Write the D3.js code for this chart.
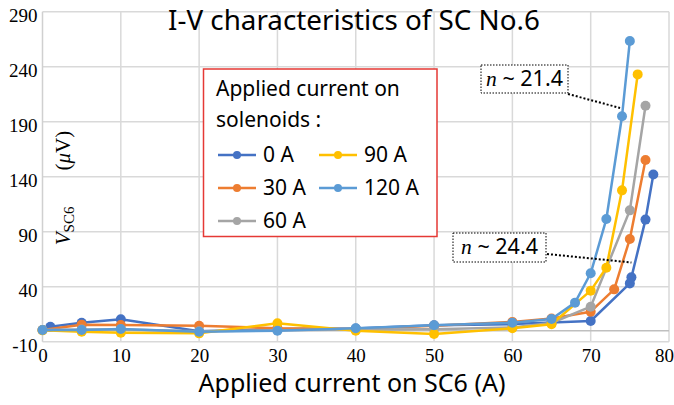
<!DOCTYPE html>
<html><head><meta charset="utf-8">
<script src="https://cdn.jsdelivr.net/npm/d3@7"></script>
<style>
body{margin:0;background:#fff;}
svg{display:block;}
</style></head>
<body>
<svg id="chart" width="674" height="405"></svg>
<script>
// ---- data ----
const seriesNames = ["0 A","30 A","60 A","90 A","120 A"];
const seriesColors = ["#4472C4","#ED7D31","#A5A5A5","#FFC000","#5B9BD5"];
const x0A = [1,5,10,20,30,40,50,60,65,70,75,75.2,77,78];
const y0A = [3.5,7.3,10.4,-0.5,1.5,2,5,6,7.5,8.8,43,48.5,101,142];
const x30A = [0,5,10,20,30,40,50,60,65,70,73,75,77];
const y30A = [0.6,5.5,5.2,4.5,2.2,1.5,4.5,8,11,17.3,37.6,83.4,155.2];
const x60A = [0,5,10,20,30,40,50,60,65,70,75,77];
const y60A = [0.6,1,1.2,-0.5,0.5,1,1.3,3,7,21.8,109.4,204.5];
const x90A = [0,5,10,20,30,40,50,60,65,70,72,74,76];
const y90A = [0.3,-0.9,-1.8,-2.4,6.7,0,-3,2.2,5.8,36.4,57.3,127.6,233];
const x120A = [0,5,10,20,30,40,50,60,65,68,70,72,74,75];
const y120A = [0.6,0.6,1.5,-0.9,0,2.2,5,7.3,10.6,25.5,52.2,101.5,195,263.4];
const xTicks = [0,10,20,30,40,50,60,70,80];
const yTicks = [-10,40,90,140,190,240,290];
const titleText = "I-V characteristics of SC No.6";
const xTitle = "Applied current on SC6 (A)";
const legendTitle = ["Applied current on","solenoids :"];
const annotations = [
  {label:"21.4", from:[73.75,202.5]},
  {label:"24.4", from:[75.2,62]}
];

const xs = [x0A,x30A,x60A,x90A,x120A];
const ys = [y0A,y30A,y60A,y90A,y120A];
const series = seriesNames.map((n,i)=>({name:n,color:seriesColors[i],pts:xs[i].map((x,j)=>[x,ys[i][j]])}));

const svg = d3.select("#chart");
const X = d3.scaleLinear().domain([0,80]).range([42.5,669]);
const Y = d3.scaleLinear().domain([-10,290]).range([341.7,11.7]);
const sans = "'Noto Sans','Open Sans',sans-serif";
const serif = "'Liberation Serif','Times New Roman',serif";

function fit(sel, w){
  const n = sel.node(); const fs = parseFloat(sel.attr("font-size"));
  const len = n.getComputedTextLength();
  if(len>0) sel.attr("font-size", fs*w/len);
  return sel;
}

// gridlines
const grid = svg.append("g").attr("stroke","#d9d9d9").attr("stroke-width",1.5);
grid.selectAll(".vg").data(xTicks.filter(d=>d>0)).enter().append("line")
  .attr("x1",d=>X(d)).attr("x2",d=>X(d)).attr("y1",Y(290)).attr("y2",Y(-10));
grid.selectAll(".hg").data(yTicks).enter().append("line")
  .attr("x1",X(0)).attr("x2",X(80)).attr("y1",d=>Y(d)).attr("y2",d=>Y(d));
// axis lines
svg.append("line").attr("x1",X(0)).attr("x2",X(80)).attr("y1",Y(0)).attr("y2",Y(0))
  .attr("stroke","#bfbfbf").attr("stroke-width",1.5);
svg.append("line").attr("x1",X(0)).attr("x2",X(0)).attr("y1",Y(290)).attr("y2",Y(-10))
  .attr("stroke","#d0d0d0").attr("stroke-width",1.5);

// axes labels
const ax = svg.append("g").attr("transform",`translate(0,${Y(-10)})`)
  .call(d3.axisBottom(X).tickValues(xTicks).tickSize(0).tickPadding(7).tickFormat(d=>String(d)));
ax.select(".domain").remove();
ax.selectAll("text").attr("font-family",serif).attr("font-size",19).attr("fill","#000");
ax.selectAll("text").filter(d=>d===80).attr("dx",-5);
const ay = svg.append("g").attr("transform",`translate(${X(0)},0)`)
  .call(d3.axisLeft(Y).tickValues(yTicks).tickSize(0).tickPadding(5).tickFormat(d=>String(d)));
ay.select(".domain").remove();
ay.selectAll("text").attr("font-family",serif).attr("font-size",19).attr("fill","#000").attr("dy","0.5em");

// series
const line = d3.line().x(d=>X(d[0])).y(d=>Y(d[1]));
const sg = svg.append("g");
series.forEach(s=>{
  sg.append("path").attr("d",line(s.pts)).attr("fill","none").attr("stroke",s.color)
    .attr("stroke-width",2.5).attr("stroke-linejoin","round");
  sg.selectAll(null).data(s.pts).enter().append("circle")
    .attr("cx",d=>X(d[0])).attr("cy",d=>Y(d[1])).attr("r",5).attr("fill",s.color);
});

// title
fit(svg.append("text").attr("x",354).attr("y",30).attr("text-anchor","middle")
  .attr("font-family",sans).attr("font-size",21).attr("fill","#000").text(titleText), 372);
// x title
fit(svg.append("text").attr("x",352).attr("y",392).attr("text-anchor","middle")
  .attr("font-family",sans).attr("font-size",21).attr("fill","#000").text(xTitle), 307);
// y title
const yt = svg.append("text").attr("transform","translate(70,188) rotate(-90)")
  .attr("text-anchor","middle").attr("font-family",serif).attr("font-size",21).attr("fill","#000");
yt.append("tspan").attr("font-style","italic").text("V");
yt.append("tspan").attr("font-size",15).attr("dy",4).text("SC6");
yt.append("tspan").attr("dy",-4).attr("dx",36).text("(");
yt.append("tspan").attr("font-style","italic").text("\u03bc");
yt.append("tspan").text("V)");

// legend
const lg = svg.append("g");
lg.append("rect").attr("x",203.5).attr("y",69).attr("width",233.5).attr("height",167.5)
  .attr("fill","#fff").attr("stroke","#e53935").attr("stroke-width",1.5);
const lt0 = lg.append("text").attr("x",216).attr("y",96)
  .attr("font-family",sans).attr("font-size",18).attr("fill","#000").text(legendTitle[0]);
fit(lt0,184);
const lfs = lt0.attr("font-size");
lg.append("text").attr("x",216).attr("y",127)
  .attr("font-family",sans).attr("font-size",lfs).attr("fill","#000").text(legendTitle[1]);
const legPos = [[218,155],[218,188],[218,221],[319,155],[319,188]];
series.forEach((s,i)=>{
  const [lx,ly]=legPos[i];
  lg.append("line").attr("x1",lx).attr("x2",lx+38).attr("y1",ly).attr("y2",ly)
    .attr("stroke",s.color).attr("stroke-width",2.5);
  lg.append("circle").attr("cx",lx+19).attr("cy",ly).attr("r",4).attr("fill",s.color);
  lg.append("text").attr("x",lx+45).attr("y",ly+7).attr("font-family",sans).attr("font-size",lfs)
    .attr("fill","#000").text(s.name);
});

// annotations
const boxes = [{x:481,y:65,w:87,h:28,lx:568,ly:94},{x:453,y:233,w:93,h:29,lx:547,ly:254}];
annotations.forEach((a,i)=>{
  const b = boxes[i];
  svg.append("line").attr("x1",b.lx).attr("y1",b.ly).attr("x2",X(a.from[0])).attr("y2",Y(a.from[1]))
    .attr("stroke","#000").attr("stroke-width",2).attr("stroke-dasharray","2,2");
  svg.append("rect").attr("x",b.x).attr("y",b.y).attr("width",b.w).attr("height",b.h)
    .attr("fill","#fff").attr("stroke","#000").attr("stroke-width",1).attr("stroke-dasharray","1.5,1.5");
  const t = svg.append("text").attr("x",b.x+b.w/2).attr("y",b.y+21).attr("text-anchor","middle")
    .attr("font-size",20).attr("fill","#000");
  t.append("tspan").attr("font-family",serif).attr("font-style","italic").text("n");
  t.append("tspan").attr("font-family",sans).text(" ~ "+a.label);
  fit(t, 77);
});
</script>
</body></html>
